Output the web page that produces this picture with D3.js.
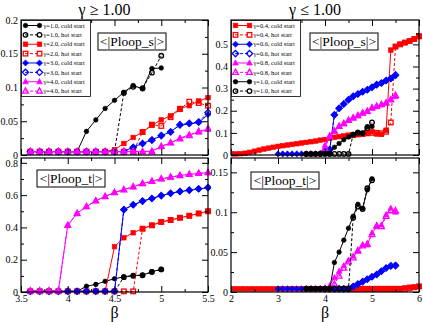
<!DOCTYPE html>
<html><head><meta charset="utf-8">
<script src="https://cdn.jsdelivr.net/npm/d3@7"></script>
<style>body{margin:0;background:#fff}svg{display:block}text{font-family:"Liberation Serif","DejaVu Serif",serif}</style>
</head><body>
<svg id="c" width="423" height="322"></svg>
<script>
// ---------- data ----------
const b36_55 = [3.6,3.7,3.8,3.9,4.0,4.1,4.2,4.3,4.4,4.5,4.6,4.7,4.8,4.9,5.0,5.1,5.2,5.3,5.4,5.5];
const b36_50 = [3.6,3.7,3.8,3.9,4.0,4.1,4.2,4.3,4.4,4.5,4.6,4.7,4.8,4.9,5.0];
const b30_55 = [3.0,3.1,3.2,3.3,3.4,3.5,3.6,3.7,3.8,3.9,4.0,4.1,4.2,4.3,4.4,4.5,4.6,4.7,4.8,4.9,5.0,5.1,5.2,5.3,5.4,5.5];
const b20_60 = [2.0,2.1,2.2,2.3,2.4,2.5,2.6,2.7,2.8,2.9,3.0,3.1,3.2,3.3,3.4,3.5,3.6,3.7,3.8,3.9,4.0,4.1,4.2,4.3,4.4,4.5,4.6,4.7,4.8,4.9,5.0,5.1,5.2,5.3,5.4,5.5,5.6,5.7,5.8,5.9,6.0];
const b45_60 = [4.5,4.6,4.7,4.8,4.9,5.0,5.1,5.2,5.3,5.4,5.5,5.6,5.7,5.8,5.9,6.0];
const b40_55 = [4.0,4.1,4.2,4.3,4.4,4.5,4.6,4.7,4.8,4.9,5.0,5.1,5.2,5.3,5.4,5.5];

// gamma >= 1, <|Ploop_s|>
const sG1cold = [0.005,0.005,0.005,0.005,0.005,0.005,0.035,0.052,0.069,0.081,0.093,0.103,0.098,0.128,0.129];
const sG1hot  = [0.005,0.005,0.005,0.005,0.005,0.005,0.005,0.005,0.005,0.005,0.092,0.101,0.099,0.122,0.147];
const sG2cold = [0.005,0.005,0.005,0.005,0.005,0.005,0.005,0.005,0.005,0.008,0.017,0.026,0.034,0.044,0.052,0.058,0.069,0.073,0.080,0.085];
const sG2hot  = [0.005,0.005,0.005,0.005,0.005,0.005,0.005,0.005,0.005,0.005,0.005,0.005,0.034,0.045,0.043,0.056,0.068,0.079,0.077,0.073];
const sG3cold = [0.005,0.005,0.005,0.005,0.005,0.005,0.005,0.005,0.005,0.005,0.005,0.012,0.017,0.023,0.028,0.035,0.044,0.046,0.048,0.060];
const sG3hot  = [0.005,0.005,0.005,0.005,0.005,0.005,0.005,0.005,0.005,0.005,0.005,0.011,0.017,0.022,0.029,0.034,0.045,0.047,0.049,0.063];
const sG4cold = [0.005,0.005,0.005,0.005,0.005,0.005,0.005,0.005,0.005,0.005,0.005,0.005,0.005,0.006,0.012,0.018,0.025,0.030,0.034,0.038];
const sG4hot  = [0.005,0.005,0.005,0.005,0.005,0.005,0.005,0.005,0.005,0.005,0.005,0.005,0.005,0.005,0.013,0.018,0.024,0.029,0.035,0.039];

// gamma >= 1, <|Ploop_t|>
const tG1cold = [0.004,0.004,0.004,0.004,0.004,0.004,0.036,0.047,0.066,0.082,0.094,0.103,0.104,0.126,0.140];
const tG1hot  = [0.004,0.004,0.004,0.004,0.004,0.004,0.004,0.004,0.004,0.004,0.092,0.100,0.104,0.124,0.140];
const tG2cold = [0.004,0.004,0.004,0.004,0.004,0.004,0.004,0.004,0.004,0.281,0.336,0.367,0.392,0.413,0.434,0.445,0.460,0.472,0.487,0.500];
const tG2hot  = [0.004,0.004,0.004,0.004,0.004,0.004,0.004,0.004,0.004,0.004,0.004,0.004,0.392,0.413,0.434,0.446,0.460,0.472,0.486,0.500];
const tG3cold = [0.004,0.004,0.004,0.004,0.004,0.004,0.004,0.004,0.004,0.004,0.512,0.539,0.563,0.580,0.596,0.611,0.622,0.630,0.638,0.646];
const tG3hot  = [0.004,0.004,0.004,0.004,0.004,0.004,0.004,0.004,0.004,0.004,0.510,0.540,0.563,0.579,0.597,0.612,0.623,0.631,0.639,0.647];
const tG4cold = [0.008,0.008,0.008,0.008,0.413,0.487,0.529,0.565,0.592,0.617,0.634,0.651,0.672,0.686,0.701,0.711,0.722,0.728,0.735,0.739];
const tG4hot  = [0.008,0.008,0.008,0.008,0.413,0.487,0.530,0.565,0.592,0.617,0.634,0.652,0.672,0.686,0.701,0.712,0.722,0.729,0.735,0.740];

// gamma <= 1, <|Ploop_s|>
const sG04cold = [0.005,0.005,0.006,0.008,0.012,0.017,0.022,0.027,0.031,0.035,0.039,0.042,0.045,0.048,0.051,0.054,0.057,0.060,0.063,0.067,0.070,0.075,0.080,0.083,0.086,0.088,0.090,0.093,0.095,0.098,0.105,0.095,0.093,0.112,0.474,0.490,0.500,0.508,0.516,0.524,0.537];
const sG04hot  = [0.088,0.090,0.093,0.095,0.098,0.100,0.100,0.098,0.105,0.147,0.490,0.500,0.508,0.515,0.524,0.536];
const sG06cold = [0.005,0.005,0.005,0.005,0.005,0.005,0.005,0.005,0.005,0.007,0.015,0.025,0.180,0.210,0.230,0.250,0.264,0.275,0.285,0.294,0.305,0.317,0.324,0.336,0.345,0.358];
const sG06hot  = [0.015,0.025,0.182,0.211,0.231,0.250,0.265,0.276,0.286,0.295,0.306,0.318,0.325,0.337,0.346,0.362];
const sG08cold = [0.005,0.005,0.005,0.005,0.044,0.084,0.107,0.129,0.141,0.156,0.167,0.177,0.189,0.197,0.212,0.219,0.227,0.234,0.249,0.264];
const sG08hot  = [0.030,0.086,0.108,0.130,0.142,0.157,0.168,0.178,0.190,0.198,0.213,0.220,0.228,0.236,0.251,0.270];
const sG10cold = [0.005,0.005,0.005,0.005,0.005,0.005,0.035,0.052,0.069,0.081,0.093,0.103,0.098,0.128,0.129];
const sG10hot  = [0.005,0.005,0.005,0.005,0.005,0.005,0.005,0.005,0.005,0.005,0.092,0.101,0.099,0.122,0.147];

// gamma <= 1, <|Ploop_t|>
const tG04cold = [0.004,0.004,0.004,0.004,0.004,0.004,0.004,0.004,0.004,0.004,0.004,0.004,0.004,0.004,0.004,0.004,0.004,0.004,0.004,0.004,0.004,0.004,0.004,0.004,0.004,0.004,0.004,0.004,0.004,0.004,0.004,0.004,0.004,0.004,0.004,0.004,0.004,0.005,0.006,0.006,0.007];
const tG04hot  = [0.004,0.004,0.004,0.004,0.004,0.004,0.004,0.004,0.004,0.004,0.004,0.004,0.004,0.005,0.006,0.007];
const tG06cold = [0.004,0.004,0.004,0.004,0.004,0.004,0.004,0.004,0.004,0.004,0.004,0.004,0.004,0.004,0.004,0.004,0.007,0.010,0.013,0.016,0.019,0.022,0.026,0.030,0.032,0.034];
const tG06hot  = [0.004,0.004,0.004,0.004,0.004,0.004,0.007,0.010,0.013,0.016,0.019,0.022,0.026,0.030,0.033,0.033];
const tG08cold = [0.004,0.004,0.004,0.004,0.004,0.008,0.018,0.026,0.033,0.040,0.045,0.051,0.059,0.059,0.074,0.082,0.084,0.097,0.105,0.100];
const tG08hot  = [0.004,0.004,0.010,0.020,0.030,0.038,0.043,0.052,0.058,0.060,0.072,0.083,0.082,0.095,0.102,0.102];
const tG10cold = [0.004,0.004,0.004,0.004,0.004,0.004,0.037,0.050,0.065,0.080,0.095,0.110,0.105,0.128,0.142];
const tG10hot  = [0.004,0.004,0.004,0.004,0.004,0.004,0.004,0.004,0.004,0.004,0.093,0.107,0.104,0.130,0.140];

// ticks / labels
const xTicksL = [3.5,4,4.5,5,5.5], xMinorL = [3.75,4.25,4.75,5.25];
const xTicksR = [2,3,4,5,6], xMinorR = [2.5,3.5,4.5,5.5];
const yTicksTL = [0,0.05,0.1,0.15,0.2], yMinorTL = [0.025,0.075,0.125,0.175];
const yTicksBL = [0,0.2,0.4,0.6,0.8], yMinorBL = [0.1,0.3,0.5,0.7];
const yTicksTR = [0,0.1,0.2,0.3,0.4,0.5], yMinorTR = [0.05,0.15,0.25,0.35,0.45,0.55];
const yTicksBR = [0,0.05,0.1,0.15], yMinorBR = [0.025,0.075,0.125];
const legendL = ["\u03b3=1.0, cold start","\u03b3=1.0, hot start","\u03b3=2.0, cold start","\u03b3=2.0, hot start","\u03b3=3.0, cold start","\u03b3=3.0, hot start","\u03b3=4.0, cold start","\u03b3=4.0, hot start"];
const legendR = ["\u03b3=0.4, cold start","\u03b3=0.4, hot start","\u03b3=0.6, cold start","\u03b3=0.6, hot start","\u03b3=0.8, cold start","\u03b3=0.8, hot start","\u03b3=1.0, cold start","\u03b3=1.0, hot start"];
const titles = ["\u03b3 \u2265 1.00","\u03b3 \u2264 1.00"];

// ---------- drawing ----------
const svg = d3.select("#c");
const C = {k:"#000000", r:"#ff0000", b:"#0000ff", m:"#ff00ff"};

function marker(g, shape, x, y, col, open){
  let el;
  if(shape==="circle") el = g.append("circle").attr("cx",x).attr("cy",y).attr("r",2.3);
  else if(shape==="square") el = g.append("rect").attr("x",x-2.3).attr("y",y-2.3).attr("width",4.6).attr("height",4.6);
  else if(shape==="diamond") el = g.append("path").attr("d",`M${x},${y-3.1}L${x+3.1},${y}L${x},${y+3.1}L${x-3.1},${y}Z`);
  else el = g.append("path").attr("d",`M${x},${y-3.2}L${x+2.9},${y+2.1}L${x-2.9},${y+2.1}Z`);
  el.attr("fill", open ? "none" : col).attr("stroke", col).attr("stroke-width", open?1.3:0.6);
}

function panel(p){
  const x = d3.scaleLinear().domain(p.xd).range([p.x0,p.x1]);
  const y = d3.scaleLinear().domain(p.yd).range([p.y1,p.y0]);
  const g = svg.append("g");
  const clipId = "clip"+p.id;
  svg.append("clipPath").attr("id",clipId).append("rect").attr("x",p.x0).attr("y",p.y0).attr("width",p.x1-p.x0+3).attr("height",p.y1-p.y0+4);
  const dg = g.append("g").attr("clip-path",`url(#${clipId})`);
  p.series.forEach(s=>{
    const pts = s.xs.map((v,i)=>[x(v), y(s.ys[i])]);
    dg.append("path").attr("d", d3.line()(pts)).attr("fill","none").attr("stroke",s.col)
      .attr("stroke-width",1).attr("stroke-dasharray", s.hot ? "3,2" : null);
    pts.forEach(q=>marker(dg, s.shape, q[0], q[1], s.col, s.hot));
  });
  // axes
  const styleAxis = a => { a.select(".domain").remove(); a.selectAll("line").attr("stroke","#000"); a.selectAll("text").attr("font-size",10).attr("font-family","Liberation Serif").attr("fill","#000"); };
  g.append("g").attr("transform",`translate(0,${p.y1})`).call(d3.axisBottom(x).tickValues(p.xt).tickSize(-6).tickPadding(3).tickFormat(p.xlab ? d=>String(d) : "")).call(styleAxis);
  g.append("g").attr("transform",`translate(0,${p.y1})`).call(d3.axisBottom(x).tickValues(p.xm).tickSize(-3).tickFormat("")).call(styleAxis);
  g.append("g").attr("transform",`translate(0,${p.y0})`).call(d3.axisTop(x).tickValues(p.xt).tickSize(-6).tickFormat("")).call(styleAxis);
  g.append("g").attr("transform",`translate(0,${p.y0})`).call(d3.axisTop(x).tickValues(p.xm).tickSize(-3).tickFormat("")).call(styleAxis);
  g.append("g").attr("transform",`translate(${p.x0},0)`).call(d3.axisLeft(y).tickValues(p.yt).tickSize(-6).tickPadding(3).tickFormat(d=>String(d))).call(styleAxis);
  g.append("g").attr("transform",`translate(${p.x0},0)`).call(d3.axisLeft(y).tickValues(p.ym).tickSize(-3).tickFormat("")).call(styleAxis);
  g.append("g").attr("transform",`translate(${p.x1},0)`).call(d3.axisRight(y).tickValues(p.yt).tickSize(-6).tickFormat("")).call(styleAxis);
  g.append("g").attr("transform",`translate(${p.x1},0)`).call(d3.axisRight(y).tickValues(p.ym).tickSize(-3).tickFormat("")).call(styleAxis);
  g.append("rect").attr("x",p.x0).attr("y",p.y0).attr("width",p.x1-p.x0).attr("height",p.y1-p.y0)
    .attr("fill","none").attr("stroke","#000").attr("stroke-width",1.2);
  // label box
  const lb = g.append("g");
  lb.append("rect").attr("x",p.bx).attr("y",p.by).attr("width",68).attr("height",17).attr("fill","#fff").attr("stroke","#000").attr("stroke-width",1);
  lb.append("text").attr("x",p.bx+34).attr("y",p.by+13).attr("text-anchor","middle").attr("font-size",13.5).text(p.box);
  // legend
  if(p.legend){
    const lg = g.append("g");
    lg.append("rect").attr("x",p.x0+0.5).attr("y",p.y0+0.5).attr("width",69).attr("height",76).attr("fill","#fff").attr("stroke","#000").attr("stroke-width",0.8);
    p.series.forEach((s,i)=>{
      const yy = p.y0 + 5.5 + i*9.37;
      lg.append("line").attr("x1",p.x0+4).attr("x2",p.x0+19).attr("y1",yy).attr("y2",yy).attr("stroke",s.col).attr("stroke-width",1).attr("stroke-dasharray", s.hot?"3,2":null);
      marker(lg, s.shape, p.x0+4.5, yy, s.col, s.hot);
      marker(lg, s.shape, p.x0+18.5, yy, s.col, s.hot);
      lg.append("text").attr("x",p.x0+22.5).attr("y",yy+2.2).attr("font-size",6.4).text(p.legend[i]);
    });
  }
}

const L = {x0:21,x1:208}, R = {x0:231,x1:419}, T = {y0:20,y1:155}, B = {y0:158,y1:292};
const mk = (xs,ys,col,shape,hot)=>({xs,ys,col,shape,hot});

panel({id:1, ...L, ...T, xd:[3.5,5.5], yd:[0,0.2], xt:xTicksL, xm:xMinorL, yt:yTicksTL, ym:yMinorTL, xlab:false,
  box:"<|Ploop_s|>", bx:98, by:33, legend:legendL,
  series:[mk(b36_50,sG1cold,C.k,"circle",false), mk(b36_50,sG1hot,C.k,"circle",true),
          mk(b36_55,sG2cold,C.r,"square",false), mk(b36_55,sG2hot,C.r,"square",true),
          mk(b36_55,sG3cold,C.b,"diamond",false), mk(b36_55,sG3hot,C.b,"diamond",true),
          mk(b36_55,sG4cold,C.m,"triangle",false), mk(b36_55,sG4hot,C.m,"triangle",true)]});
panel({id:2, ...L, ...B, xd:[3.5,5.5], yd:[0,0.83], xt:xTicksL, xm:xMinorL, yt:yTicksBL, ym:yMinorBL, xlab:true,
  box:"<|Ploop_t|>", bx:37, by:170, legend:null,
  series:[mk(b36_50,tG1cold,C.k,"circle",false), mk(b36_50,tG1hot,C.k,"circle",true),
          mk(b36_55,tG2cold,C.r,"square",false), mk(b36_55,tG2hot,C.r,"square",true),
          mk(b36_55,tG3cold,C.b,"diamond",false), mk(b36_55,tG3hot,C.b,"diamond",true),
          mk(b36_55,tG4cold,C.m,"triangle",false), mk(b36_55,tG4hot,C.m,"triangle",true)]});
panel({id:3, ...R, ...T, xd:[2,6], yd:[0,0.61], xt:xTicksR, xm:xMinorR, yt:yTicksTR, ym:yMinorTR, xlab:false,
  box:"<|Ploop_s|>", bx:310, by:33, legend:legendR,
  series:[mk(b20_60,sG04cold,C.r,"square",false), mk(b45_60,sG04hot,C.r,"square",true),
          mk(b30_55,sG06cold,C.b,"diamond",false), mk(b40_55,sG06hot,C.b,"diamond",true),
          mk(b36_55,sG08cold,C.m,"triangle",false), mk(b40_55,sG08hot,C.m,"triangle",true),
          mk(b36_50,sG10cold,C.k,"circle",false), mk(b36_50,sG10hot,C.k,"circle",true)]});
panel({id:4, ...R, ...B, xd:[2,6], yd:[0,0.168], xt:xTicksR, xm:xMinorR, yt:yTicksBR, ym:yMinorBR, xlab:true,
  box:"<|Ploop_t|>", bx:251, by:172, legend:null,
  series:[mk(b20_60,tG04cold,C.r,"square",false), mk(b45_60,tG04hot,C.r,"square",true),
          mk(b30_55,tG06cold,C.b,"diamond",false), mk(b40_55,tG06hot,C.b,"diamond",true),
          mk(b36_55,tG08cold,C.m,"triangle",false), mk(b40_55,tG08hot,C.m,"triangle",true),
          mk(b36_50,tG10cold,C.k,"circle",false), mk(b36_50,tG10hot,C.k,"circle",true)]});

// titles and axis labels
svg.append("text").attr("x",104.5).attr("y",15).attr("text-anchor","middle").attr("font-size",16).text(titles[0]);
svg.append("text").attr("x",315).attr("y",15).attr("text-anchor","middle").attr("font-size",16).text(titles[1]);
svg.append("text").attr("x",114.5).attr("y",318).attr("text-anchor","middle").attr("font-size",16).text("\u03b2");
svg.append("text").attr("x",325).attr("y",318).attr("text-anchor","middle").attr("font-size",16).text("\u03b2");
</script></body></html>
